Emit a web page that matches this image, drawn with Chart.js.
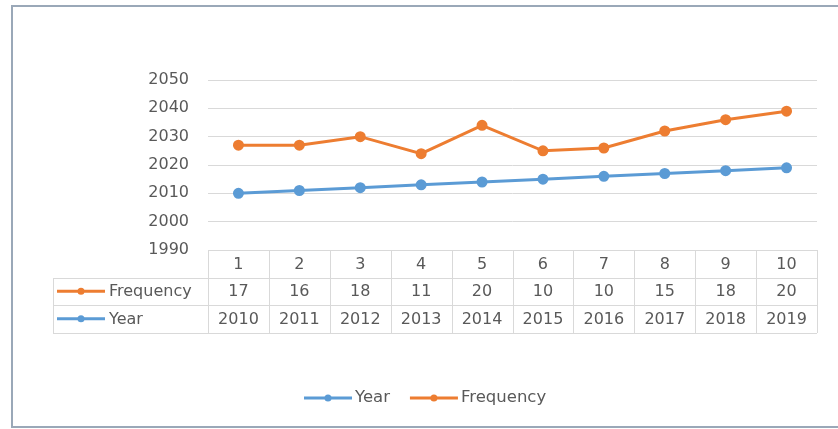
<!DOCTYPE html>
<html>
<head>
<meta charset="utf-8">
<script src="https://cdn.jsdelivr.net/npm/chart.js@4.4.1/dist/chart.umd.min.js"></script>
<style>
  html, body { margin: 0; padding: 0; background: #fff; }
  #wrap { position: relative; width: 838px; height: 429px; }
</style>
</head>
<body>
<div id="wrap"><canvas id="chart" width="838" height="429"></canvas></div>
<script>
// chart data
const categories = ['1', '2', '3', '4', '5', '6', '7', '8', '9', '10'];
const yearValues = [2010, 2011, 2012, 2013, 2014, 2015, 2016, 2017, 2018, 2019];
const frequencyValues = [17, 16, 18, 11, 20, 10, 10, 15, 18, 20];
const yTicks = [1990, 2000, 2010, 2020, 2030, 2040, 2050];

const BLUE = '#5b9bd5';
const ORANGE = '#ed7d31';
const TEXT = '#595959';
const GRID = '#d9d9d9';
const FONT = '"DejaVu Sans", Verdana, sans-serif';

// draws the frame, the data table under the plot and the bottom legend
const tablePlugin = {
    id: 'dataTable',
    afterDraw(chart) {
        const ctx = chart.ctx;
        const x = chart.scales.x;
        const area = chart.chartArea;
        const rowH = 27.5;
        const top = area.bottom;
        const headLeft = 53;
        const step = x.getPixelForValue(1) - x.getPixelForValue(0);

        ctx.save();

        // outer frame
        ctx.strokeStyle = '#9aa8b8';
        ctx.lineWidth = 2;
        ctx.beginPath();
        ctx.moveTo(12, 428);
        ctx.lineTo(12, 6);
        ctx.lineTo(838, 6);
        ctx.moveTo(12, 427);
        ctx.lineTo(838, 427);
        ctx.stroke();

        // table grid
        ctx.strokeStyle = GRID;
        ctx.lineWidth = 1;
        ctx.beginPath();
        for (let r = 0; r <= 3; r++) {
            const yy = Math.round(top + r * rowH) + 0.5;
            ctx.moveTo(r === 0 ? area.left : headLeft, yy);
            ctx.lineTo(area.right, yy);
        }
        for (let i = 0; i <= categories.length; i++) {
            const xx = Math.round(x.getPixelForValue(i) - step / 2) + 0.5;
            ctx.moveTo(xx, top);
            ctx.lineTo(xx, Math.round(top + 3 * rowH));
        }
        ctx.moveTo(headLeft + 0.5, Math.round(top + rowH));
        ctx.lineTo(headLeft + 0.5, Math.round(top + 3 * rowH));
        ctx.stroke();

        // table text
        ctx.font = '16px ' + FONT;
        ctx.fillStyle = TEXT;
        ctx.textAlign = 'center';
        ctx.textBaseline = 'middle';
        const rows = [
            categories,
            chart.data.datasets[1].rawValues,
            chart.data.datasets[0].rawValues
        ];
        rows.forEach((vals, r) => {
            vals.forEach((v, i) => {
                ctx.fillText(String(v), x.getPixelForValue(i), top + r * rowH + rowH / 2 + 1);
            });
        });

        // row headers with series keys
        const heads = [chart.data.datasets[1], chart.data.datasets[0]];
        heads.forEach((ds, r) => {
            const cy = top + (r + 1) * rowH + rowH / 2;
            drawKey(ctx, 57, cy, ds.borderColor);
            ctx.fillStyle = TEXT;
            ctx.textAlign = 'left';
            ctx.fillText(ds.label, 109, cy + 1);
        });

        // bottom legend
        ctx.font = '16.5px ' + FONT;
        let lx = 304;
        const ly = 398;
        chart.data.datasets.forEach(ds => {
            drawKey(ctx, lx, ly, ds.borderColor);
            ctx.fillStyle = TEXT;
            ctx.textAlign = 'left';
            ctx.fillText(ds.label, lx + 51, ly);
            lx += 51 + ctx.measureText(ds.label).width + 20;
        });

        ctx.restore();
    }
};

function drawKey(ctx, x0, cy, color) {
    ctx.strokeStyle = color;
    ctx.lineWidth = 3;
    ctx.beginPath();
    ctx.moveTo(x0, cy);
    ctx.lineTo(x0 + 48, cy);
    ctx.stroke();
    ctx.fillStyle = color;
    ctx.beginPath();
    ctx.arc(x0 + 24, cy, 3.5, 0, Math.PI * 2);
    ctx.fill();
}

new Chart(document.getElementById('chart'), {
    type: 'line',
    data: {
        labels: categories,
        datasets: [{
            label: 'Year',
            data: yearValues,
            rawValues: yearValues,
            borderColor: BLUE,
            backgroundColor: BLUE,
            borderWidth: 3,
            pointRadius: 4,
            pointHoverRadius: 4,
            tension: 0,
            stack: 's'
        }, {
            label: 'Frequency',
            data: frequencyValues,
            rawValues: frequencyValues,
            borderColor: ORANGE,
            backgroundColor: ORANGE,
            borderWidth: 3,
            pointRadius: 4,
            pointHoverRadius: 4,
            tension: 0,
            stack: 's'
        }]
    },
    options: {
        responsive: false,
        animation: false,
        layout: {
            padding: { top: 80, right: 21, bottom: 179, left: 0 }
        },
        plugins: {
            legend: { display: false },
            tooltip: { enabled: false }
        },
        scales: {
            x: {
                display: false,
                offset: true
            },
            y: {
                stacked: true,
                min: yTicks[0],
                max: yTicks[yTicks.length - 1],
                afterBuildTicks: scale => {
                    scale.ticks = yTicks.map(v => ({ value: v }));
                },
                afterFit: scale => {
                    scale.width = 208;
                },
                border: { display: false },
                grid: {
                    color: GRID,
                    drawTicks: false
                },
                ticks: {
                    color: TEXT,
                    padding: 19,
                    font: { family: FONT, size: 16 },
                    callback: v => String(v)
                }
            }
        }
    },
    plugins: [tablePlugin]
});
</script>
</body>
</html>
